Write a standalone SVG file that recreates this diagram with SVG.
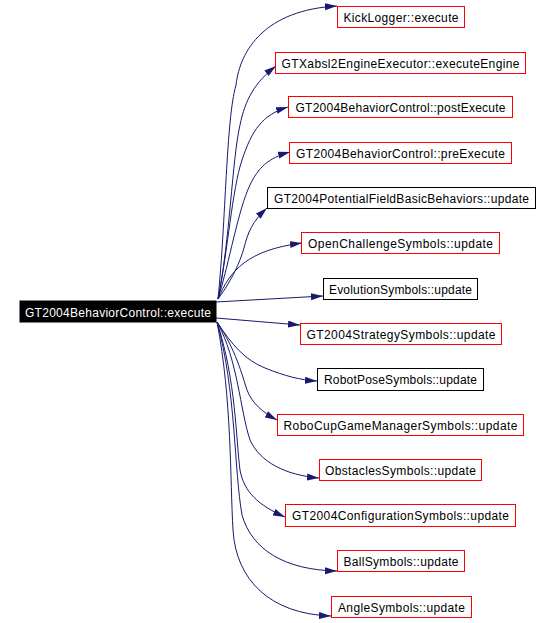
<svg xmlns="http://www.w3.org/2000/svg" width="551" height="623" viewBox="0 0 551 623">
<style>
.n rect{fill:#fff;stroke:#ff0000;stroke-width:1}
.n.b rect{stroke:#000}
.n text{font-family:"Liberation Sans",Arial,Helvetica,sans-serif;font-size:12px;fill:#000;text-anchor:middle}
#root rect{fill:#000;stroke:#000}
#root text{fill:#fff}
.e path{fill:none;stroke:#191970;stroke-width:1;marker-end:url(#ah)}
</style>
<defs>
<marker id="ah" markerWidth="12" markerHeight="8" refX="12" refY="3.5" orient="auto" markerUnits="userSpaceOnUse">
<path d="M0,0 L12,3.5 L0,7 Z" fill="#191970" stroke="none"/>
</marker>
</defs>
<rect width="551" height="623" fill="#fff"/>
<g class="e" id="edges">
<path d="M218,299 C226,220 226,120 236,85 C240,50 265,10 337,6"/>
<path d="M218,299 C230,240 232,160 240,125 C245,100 255,82 276,66"/>
<path d="M218,299 C228,250 232,190 242,160 C252,130 262,115 288,107"/>
<path d="M218,299 C230,260 238,210 250,185 C258,168 268,158 290,152"/>
<path d="M218,299 C232,280 240,262 244,248 C248,232 252,222 267,208"/>
<path d="M218,299 C230,270 248,250 302,243"/>
<path d="M216,302 L323,296"/>
<path d="M216,318 L300,325"/>
<path d="M217,322 C232,345 245,360 265,368 C285,376 300,380 317,381"/>
<path d="M217,322 C236,350 242,375 247,390 C252,403 262,412 277,420"/>
<path d="M217,322 C238,360 240,410 250,440 C260,462 285,475 319,478"/>
<path d="M217,322 C236,380 236,440 240,470 C244,492 258,505 285,517"/>
<path d="M217,322 C236,390 234,470 242,515 C252,550 285,570 337,571"/>
<path d="M217,322 C232,400 230,480 233,530 C236,580 270,614 331,616"/>
</g>
<g class="n" id="root"><rect x="20" y="301" width="196" height="21"/><text x="118" y="316.5" textLength="186">GT2004BehaviorControl::execute</text></g>
<g class="n" id="n1"><rect x="337.5" y="6.5" width="127" height="21"/><text x="401" y="21.7" textLength="115">KickLogger::execute</text></g>
<g class="n" id="n2"><rect x="275.5" y="52.5" width="250" height="21"/><text x="400.5" y="67.7" textLength="238">GTXabsl2EngineExecutor::executeEngine</text></g>
<g class="n" id="n3"><rect x="288.5" y="96.5" width="224" height="21"/><text x="400.5" y="111.7" textLength="210">GT2004BehaviorControl::postExecute</text></g>
<g class="n" id="n4"><rect x="289.5" y="142.5" width="222" height="21"/><text x="400.5" y="157.7" textLength="209">GT2004BehaviorControl::preExecute</text></g>
<g class="n b" id="n5"><rect x="267.5" y="187.5" width="268" height="21"/><text x="401.5" y="202.7" textLength="255">GT2004PotentialFieldBasicBehaviors::update</text></g>
<g class="n" id="n6"><rect x="301.5" y="232.5" width="198" height="21"/><text x="400.5" y="247.7" textLength="185">OpenChallengeSymbols::update</text></g>
<g class="n b" id="n7"><rect x="323.5" y="278.5" width="154" height="21"/><text x="400.5" y="293.7" textLength="143">EvolutionSymbols::update</text></g>
<g class="n" id="n8"><rect x="300.5" y="323.5" width="201" height="21"/><text x="401" y="338.7" textLength="189">GT2004StrategySymbols::update</text></g>
<g class="n b" id="n9"><rect x="317.5" y="368.5" width="166" height="22"/><text x="400.5" y="384.2" textLength="153">RobotPoseSymbols::update</text></g>
<g class="n" id="n10"><rect x="277.5" y="414.5" width="246" height="21"/><text x="400.5" y="429.7" textLength="234">RoboCupGameManagerSymbols::update</text></g>
<g class="n" id="n11"><rect x="319.5" y="459.5" width="162" height="21"/><text x="400.5" y="474.7" textLength="151">ObstaclesSymbols::update</text></g>
<g class="n" id="n12"><rect x="285.5" y="504.5" width="230" height="22"/><text x="400.5" y="520.2" textLength="217">GT2004ConfigurationSymbols::update</text></g>
<g class="n" id="n13"><rect x="337.5" y="550.5" width="127" height="21"/><text x="401" y="565.7" textLength="115">BallSymbols::update</text></g>
<g class="n" id="n14"><rect x="331.5" y="596.5" width="140" height="21"/><text x="401.5" y="611.7" textLength="127">AngleSymbols::update</text></g>
</svg>
